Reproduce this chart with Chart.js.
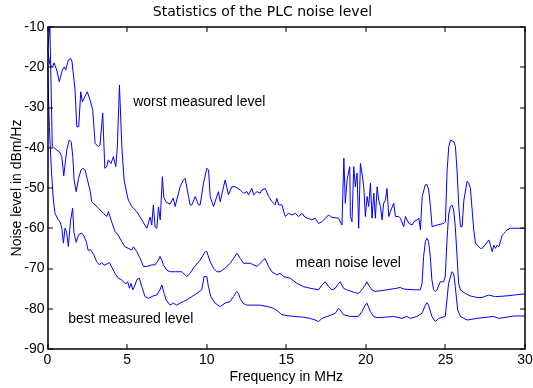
<!DOCTYPE html>
<html lang="en">
<head>
<meta charset="utf-8">
<title>Statistics of the PLC noise level</title>
<style>
  * { margin: 0; padding: 0; box-sizing: border-box; }
  body { background: #fff; width: 533px; height: 388px; overflow: hidden; }
  #wrap { position: relative; width: 533px; height: 388px; }
</style>
</head>
<body>
<div id="wrap"><canvas id="noise" width="533" height="388"></canvas></div>
<script src="https://cdn.jsdelivr.net/npm/chart.js"></script>
<script>
// frequency in MHz / level in dBm/Hz
const worstFreq = [0.0, 0.16, 0.33, 0.41, 0.58, 0.74, 0.93, 1.06, 1.14, 1.31, 1.46, 1.54, 1.73, 1.84, 1.96, 2.09, 2.19, 2.5, 2.67, 2.84,
  2.99, 3.19, 3.3, 3.47, 3.6, 3.72, 3.82, 3.99, 4.14, 4.29, 4.39, 4.52, 4.67, 4.81, 4.98, 5.08, 5.3, 5.61, 5.92, 6.24,
  6.34, 6.45, 6.55, 6.65, 6.76, 6.87, 6.97, 7.08, 7.22, 7.3, 7.45, 7.7, 7.9, 8.02, 8.33, 8.54, 8.65, 8.86, 8.96, 9.07,
  9.28, 9.49, 9.59, 9.8, 10.01, 10.12, 10.22, 10.43, 10.74, 10.85, 11.16, 11.37, 11.58, 11.79, 12.11, 12.32, 12.53, 12.63, 12.84, 12.95,
  13.16, 13.36, 13.47, 13.68, 13.89, 14.1, 14.31, 14.41, 14.52, 14.73, 14.94, 15.15, 15.36, 15.57, 15.78, 15.99, 16.19, 16.61, 16.82, 17.03,
  17.24, 17.66, 17.87, 18.29, 18.5, 18.62, 18.71, 18.82, 18.99, 19.03, 19.13, 19.24, 19.34, 19.45, 19.55, 19.66, 19.76, 19.87, 19.97, 20.08,
  20.18, 20.29, 20.39, 20.5, 20.6, 20.71, 20.81, 20.92, 21.02, 21.12, 21.23, 21.33, 21.44, 21.54, 21.75, 21.86, 22.07, 22.17, 22.38, 22.49,
  22.7, 22.91, 23.01, 23.22, 23.33, 23.43, 23.54, 23.74, 23.85, 23.95, 24.06, 24.16, 24.48, 24.9, 25.0, 25.11, 25.21, 25.32, 25.53, 25.63,
  25.74, 25.84, 25.95, 26.05, 26.16, 26.36, 26.47, 26.57, 26.68, 26.78, 26.89, 27.2, 27.31, 27.73, 27.83, 27.94, 28.04, 28.15, 28.25, 28.36,
  28.57, 28.67, 28.78, 28.88, 29.09, 30.0];
const worstLevel = [-15.7, -19.4, -19.9, -18.9, -20.7, -23.6, -20.7, -19.9, -20.7, -18.2, -17.8, -18.6, -25.6, -34.8, -34.8, -26.1, -28.6, -26.1, -28.1, -30.6,
  -38.9, -39.7, -39.3, -31.4, -45.1, -44.7, -43.0, -43.9, -42.2, -44.7, -39.7, -24.4, -39.7, -48.0, -51.3, -53.0, -54.6, -55.9, -57.9, -60.0,
  -58.7, -57.2, -59.2, -54.2, -59.7, -60.0, -54.7, -57.9, -47.2, -52.2, -53.5, -54.0, -52.5, -54.6, -49.7, -48.0, -47.6, -52.1, -54.2, -54.2,
  -52.1, -54.2, -54.2, -48.8, -45.1, -45.5, -52.1, -54.6, -50.9, -53.4, -48.0, -51.7, -49.7, -49.7, -50.5, -51.3, -50.9, -51.7, -50.1, -51.7,
  -50.9, -51.3, -50.5, -50.1, -52.1, -53.4, -54.2, -52.6, -54.2, -54.2, -57.1, -56.3, -56.7, -56.3, -57.1, -56.3, -57.3, -57.9, -57.5, -58.8,
  -58.4, -56.7, -57.3, -57.5, -59.2, -42.6, -53.8, -48.0, -44.7, -57.1, -58.4, -44.7, -49.7, -46.3, -60.0, -43.9, -46.3, -49.7, -57.1, -52.1,
  -54.6, -48.8, -57.5, -51.3, -57.5, -49.7, -53.0, -54.6, -57.9, -53.8, -53.0, -50.1, -57.1, -55.9, -53.8, -57.1, -57.1, -57.5, -59.6, -57.1,
  -58.8, -59.2, -58.4, -57.9, -57.5, -60.4, -52.1, -49.2, -49.2, -50.5, -54.6, -59.6, -59.2, -58.8, -58.4, -45.5, -39.7, -38.1, -38.5, -39.7,
  -46.3, -54.6, -59.6, -59.6, -53.0, -48.4, -48.8, -50.1, -55.5, -60.4, -63.7, -65.0, -65.0, -62.9, -64.2, -65.8, -64.2, -65.0, -64.2, -64.6,
  -61.7, -61.3, -60.8, -60.4, -60.0, -60.0];

const meanFreq = [0.0, 0.15, 0.3, 0.38, 0.59, 0.75, 0.9, 1.02, 1.11, 1.21, 1.36, 1.49, 1.59, 1.67, 1.8, 1.95, 2.1, 2.22, 2.36, 2.51,
  2.67, 2.78, 2.99, 3.2, 3.51, 3.72, 3.83, 4.03, 4.24, 4.45, 4.66, 4.87, 5.08, 5.29, 5.4, 5.61, 5.82, 6.03, 6.24, 6.55,
  6.76, 6.97, 7.07, 7.18, 7.28, 7.49, 7.7, 8.02, 8.44, 8.75, 8.96, 9.17, 9.59, 9.91, 10.01, 10.22, 10.43, 10.64, 10.85, 11.16,
  11.48, 11.69, 11.9, 12.11, 12.32, 12.74, 13.16, 13.36, 13.67, 13.89, 14.09, 14.41, 14.62, 14.83, 15.25, 15.67, 16.08, 16.5, 17.03, 17.24,
  17.45, 17.66, 17.87, 18.08, 18.29, 18.39, 18.6, 18.81, 19.33, 19.54, 19.75, 19.96, 20.07, 20.17, 20.38, 20.59, 21.32, 21.95, 22.16, 22.37,
  23.11, 23.42, 23.53, 23.63, 23.74, 23.84, 23.94, 24.05, 24.15, 24.26, 24.36, 24.47, 24.68, 24.89, 24.99, 25.1, 25.2, 25.31, 25.41, 25.52,
  25.62, 25.73, 25.83, 25.94, 26.25, 26.56, 26.98, 27.3, 27.72, 28.14, 28.87, 29.29, 30.0];
const meanLevel = [-16.0, -10.0, -39.7, -39.9, -40.6, -41.0, -42.2, -47.0, -43.9, -40.6, -38.1, -38.5, -42.2, -48.0, -50.9, -47.6, -45.6, -45.1, -45.5, -48.0,
  -50.5, -53.4, -54.2, -55.0, -56.3, -57.1, -55.9, -58.4, -60.8, -61.7, -63.3, -64.6, -65.0, -65.4, -64.6, -65.8, -67.5, -69.5, -69.5, -69.1,
  -69.1, -67.9, -67.0, -67.9, -69.1, -70.4, -70.8, -70.8, -70.8, -72.0, -71.2, -69.9, -67.9, -65.8, -65.8, -68.3, -69.9, -70.8, -70.8, -69.9,
  -68.7, -67.5, -66.2, -67.5, -68.7, -68.7, -69.5, -68.7, -67.5, -69.5, -70.8, -71.6, -71.2, -72.0, -72.4, -73.7, -74.5, -74.9, -75.3, -74.1,
  -73.3, -74.5, -75.3, -74.9, -73.7, -73.3, -74.9, -75.3, -76.0, -76.2, -75.3, -74.1, -73.3, -74.1, -75.3, -75.7, -75.3, -74.9, -74.7, -75.1,
  -75.3, -75.3, -73.7, -67.0, -63.3, -62.5, -63.3, -67.0, -72.8, -75.3, -75.7, -75.3, -73.3, -73.3, -72.0, -62.9, -56.7, -54.6, -54.2, -55.5,
  -59.6, -67.0, -73.7, -75.3, -76.2, -76.8, -77.2, -77.2, -76.6, -77.0, -76.8, -76.6, -76.3];

const bestFreq = [0.0, 0.12, 0.25, 0.37, 0.47, 0.68, 0.8, 0.9, 1.0, 1.1, 1.2, 1.31, 1.45, 1.58, 1.66, 1.8, 1.95, 2.15, 2.3, 2.45,
  2.55, 2.7, 2.9, 3.09, 3.26, 3.41, 3.55, 3.72, 3.89, 4.04, 4.24, 4.45, 4.66, 4.81, 4.94, 5.04, 5.15, 5.25, 5.36, 5.5,
  5.61, 5.77, 5.92, 6.13, 6.34, 6.65, 6.86, 7.07, 7.18, 7.33, 7.45, 7.7, 7.91, 8.12, 8.33, 8.54, 8.75, 9.06, 9.38, 9.69,
  9.84, 10.01, 10.11, 10.26, 10.53, 10.85, 11.16, 11.48, 11.68, 11.89, 12.0, 12.1, 12.27, 12.52, 12.94, 13.36, 13.88, 14.2, 14.51, 14.72,
  15.25, 16.08, 16.5, 16.82, 17.03, 17.24, 17.87, 18.08, 18.29, 18.39, 18.6, 19.02, 19.54, 19.75, 19.96, 20.07, 20.28, 20.49, 20.7, 21.22,
  21.74, 22.27, 22.58, 22.79, 23.21, 23.53, 23.74, 23.84, 23.94, 24.15, 24.36, 24.57, 24.99, 25.2, 25.41, 25.52, 25.62, 25.77, 25.94, 26.36,
  26.98, 28.03, 28.35, 29.29, 30.0];
const bestLevel = [-19.0, -35.0, -46.0, -53.0, -56.3, -57.9, -58.5, -60.0, -63.7, -60.0, -61.0, -64.5, -58.0, -55.0, -61.0, -63.5, -61.6, -61.2, -62.0, -63.5,
  -65.5, -65.3, -66.5, -68.3, -69.1, -68.5, -69.2, -68.9, -68.5, -69.7, -71.2, -72.4, -72.8, -73.5, -73.8, -73.3, -74.9, -73.7, -75.3, -74.1,
  -72.8, -72.4, -74.5, -77.0, -77.4, -76.8, -76.6, -75.3, -74.1, -76.2, -77.8, -79.1, -78.6, -79.1, -78.6, -78.2, -77.8, -77.0, -76.2, -75.3,
  -72.0, -72.0, -74.5, -77.0, -78.6, -79.5, -78.6, -78.2, -77.0, -75.7, -76.2, -77.4, -78.6, -79.1, -79.1, -79.1, -79.5, -79.9, -80.7, -81.5,
  -81.8, -82.1, -82.4, -82.8, -83.2, -82.4, -81.5, -81.1, -79.9, -80.3, -81.5, -81.9, -81.9, -80.7, -79.1, -78.6, -80.7, -81.9, -82.2, -82.1,
  -81.9, -82.4, -81.9, -82.4, -81.9, -81.1, -79.1, -78.5, -79.1, -81.9, -83.2, -82.4, -81.9, -73.7, -70.8, -71.2, -74.5, -80.3, -81.9, -82.8,
  -82.4, -81.9, -82.4, -81.8, -81.8];

// text placed next to the curves (MHz, dBm/Hz)
const curveNames = ["worst measured level", "mean noise level", "best measured level"];
const nameFreq = [5.38, 15.6, 1.3];
const nameLevel = [-28.6, -68.6, -82.5];

const FONT = "'Liberation Sans', Arial, Helvetica, sans-serif";

function toPoints(xs, ys) {
  return xs.map((f, i) => ({ x: f, y: ys[i] }));
}

function curve(xs, ys) {
  return {
    data: toPoints(xs, ys),
    borderColor: "#0000ff",
    borderWidth: 1,
    pointRadius: 0,
    tension: 0,
    fill: false
  };
}

// matlab style box with inward ticks on all four sides, plus the curve names
const boxPlugin = {
  id: "boxPlugin",
  afterDraw(chart) {
    const ctx = chart.ctx;
    const a = chart.chartArea;
    const sx = chart.scales.x, sy = chart.scales.y;
    const L = Math.round(a.left), R = Math.round(a.right);
    const T = Math.round(a.top), B = Math.round(a.bottom);
    const len = 5;
    ctx.save();
    ctx.strokeStyle = "#000";
    ctx.lineWidth = 1.5;
    ctx.beginPath();
    ctx.moveTo(L, T); ctx.lineTo(R, T);
    ctx.lineTo(R, B); ctx.lineTo(L, B);
    ctx.closePath();
    ctx.stroke();
    ctx.lineWidth = 1;
    ctx.beginPath();
    sx.ticks.forEach(t => {
      const p = Math.round(sx.getPixelForValue(t.value));
      ctx.moveTo(p, B); ctx.lineTo(p, B - len);
      ctx.moveTo(p, T); ctx.lineTo(p, T + len);
    });
    sy.ticks.forEach(t => {
      const p = Math.round(sy.getPixelForValue(t.value));
      ctx.moveTo(L, p); ctx.lineTo(L + len, p);
      ctx.moveTo(R, p); ctx.lineTo(R - len, p);
    });
    ctx.stroke();

    ctx.fillStyle = "#000";
    ctx.font = "14px " + FONT;
    ctx.textAlign = "left";
    ctx.textBaseline = "middle";
    curveNames.forEach((name, i) => {
      ctx.fillText(name, sx.getPixelForValue(nameFreq[i]), sy.getPixelForValue(nameLevel[i]));
    });
    ctx.restore();
  }
};

new Chart(document.getElementById("noise"), {
  type: "line",
  data: {
    datasets: [
      curve(worstFreq, worstLevel),
      curve(meanFreq, meanLevel),
      curve(bestFreq, bestLevel)
    ]
  },
  plugins: [boxPlugin],
  options: {
    responsive: false,
    devicePixelRatio: 1,
    animation: false,
    layout: { padding: { top: 0, right: 8, bottom: 0, left: 0 } },
    plugins: {
      legend: { display: false },
      tooltip: { enabled: false },
      title: {
        display: true,
        text: "Statistics of the PLC noise level",
        color: "#000",
        font: { family: "'DejaVu Sans', sans-serif", size: 14, weight: "normal" },
        padding: { top: 3.5, bottom: 6.7 }
      }
    },
    scales: {
      x: {
        type: "linear",
        min: 0,
        max: 30,
        grid: { display: false, drawTicks: false, tickLength: 0 },
        border: { display: false },
        ticks: { stepSize: 5, color: "#000", padding: 3, maxRotation: 0, font: { family: FONT, size: 14 } },
        title: {
          display: true,
          text: "Frequency in MHz",
          color: "#000",
          font: { family: FONT, size: 14 },
          padding: { top: 0, bottom: 2.6 }
        },
        afterFit(scale) {
          scale.height = 39;
          scale.paddingLeft = 0;
          scale.paddingRight = 0;
        }
      },
      y: {
        type: "linear",
        min: -90,
        max: -10,
        grid: { display: false, drawTicks: false, tickLength: 0 },
        border: { display: false },
        ticks: { stepSize: 10, color: "#000", padding: 3, font: { family: FONT, size: 14 } },
        title: {
          display: true,
          text: "Noise level in dBm/Hz",
          color: "#000",
          font: { family: FONT, size: 14 },
          padding: { top: 8.8, bottom: 0 }
        },
        afterFit(scale) { scale.width = 47.5; }
      }
    }
  }
});
</script>
</body>
</html>
